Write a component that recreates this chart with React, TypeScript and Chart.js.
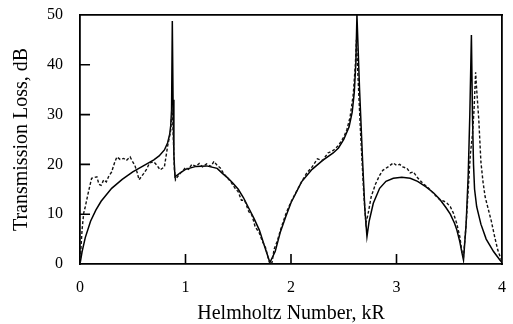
import React, { useEffect, useRef } from "react";
import { Chart, registerables } from "chart.js";

Chart.register(...registerables);

// Helmholtz number kR and transmission loss (dB) — theory (solid)
const theoryKR = [
  0, 0.02, 0.05, 0.1, 0.15, 0.2, 0.3, 0.4, 0.5, 0.6, 0.7, 0.75, 0.8, 0.83, 0.85,
  0.86, 0.868, 0.875, 0.882, 0.89, 0.9, 0.95, 1.0, 1.1, 1.2, 1.3, 1.35, 1.4, 1.45,
  1.5, 1.55, 1.6, 1.65, 1.7, 1.75, 1.8, 1.85, 1.9, 1.95, 2.0, 2.1, 2.2, 2.3,
  2.4, 2.45, 2.5, 2.55, 2.58, 2.6, 2.615, 2.625, 2.65, 2.68, 2.7, 2.72, 2.74, 2.78,
  2.84, 2.9, 2.97, 3.05, 3.13, 3.2, 3.28, 3.35, 3.41, 3.47, 3.51, 3.55, 3.57, 3.6,
  3.62, 3.635, 3.66, 3.68, 3.695, 3.71, 3.72, 3.73, 3.74, 3.76, 3.8, 3.85, 3.92,
  3.98, 4.0,
];
const theoryTL = [
  0, 2.5, 5.3, 8.6, 10.8, 12.6, 15.2, 17.0, 18.5, 19.7, 20.9, 21.7, 22.9, 24.3, 26,
  27.8, 31, 48.8, 33, 22, 17.5, 18.3, 19.0, 19.6, 19.7, 19.2, 18.2, 17.3, 16.2,
  15.0, 13.3, 11.2, 9.1, 6.8, 3.5, 0.3, 2.5, 6.5, 9.5, 12.3, 16.5, 19.0, 20.8,
  22.3, 23.3, 25.0, 27.5, 30.5, 34.5, 40.5, 50, 35, 20, 11, 5.5, 8.5, 12.2,
  15.2, 16.6, 17.2, 17.4, 17.2, 16.6, 15.5, 14.3, 13.0, 11.3, 10.0, 8.2, 7.0, 4.5,
  2.3, 0.8, 8, 18, 30, 46, 30, 20, 15, 11.5, 8, 5, 2.5,
  0.8, 0.3,
];

// Measured (dashed)
const measuredKR = [
  0, 0.01, 0.02, 0.035, 0.05, 0.08, 0.11, 0.14, 0.16, 0.18, 0.2, 0.225, 0.25, 0.27,
  0.3, 0.33, 0.35, 0.38, 0.415, 0.44, 0.475, 0.5, 0.52, 0.54, 0.56, 0.58, 0.605,
  0.63, 0.66, 0.7, 0.73, 0.76, 0.8, 0.83, 0.86, 0.873, 0.88, 0.895, 0.905, 0.92,
  0.95, 0.98, 1.0, 1.03, 1.06, 1.1, 1.13, 1.16, 1.2, 1.24, 1.27, 1.3, 1.33, 1.36,
  1.4, 1.43, 1.47, 1.5, 1.53, 1.56, 1.6, 1.63, 1.66, 1.7, 1.73, 1.76, 1.78, 1.8,
  1.82, 1.84, 1.87, 1.9, 1.95, 2.0, 2.05, 2.1, 2.15, 2.2, 2.25, 2.3, 2.35, 2.4,
  2.45, 2.5, 2.53, 2.56, 2.59, 2.61, 2.62, 2.63, 2.66, 2.69, 2.71, 2.73, 2.76,
  2.8, 2.84, 2.87, 2.92, 2.97, 3.0, 3.03, 3.06, 3.1, 3.13, 3.16, 3.2, 3.25, 3.3,
  3.35, 3.38, 3.41, 3.45, 3.48, 3.51, 3.54, 3.57, 3.6, 3.62, 3.635, 3.66, 3.68,
  3.7, 3.72, 3.735, 3.75, 3.76, 3.78, 3.8, 3.82, 3.84, 3.87, 3.9, 3.93, 3.96,
  3.99, 4.0,
];
const measuredTL = [
  0, 3.5, 7, 10.2, 11.5, 14.5, 17.2, 17.4, 17.5, 16.0, 15.8, 16.9, 16.5, 17.5,
  18.5, 20.5, 21.5, 21, 21.2, 20.8, 21.5, 20.5, 19.8, 18.5, 16.9, 17.5, 18.2,
  19, 20.3, 20.5, 19.8, 18.9, 19.5, 23.6, 26.9, 31, 28, 19, 16.9, 17.4,
  18.2, 18.8, 19.4, 19.0, 20.0, 19.6, 20.2, 19.5, 20.1, 19.6, 20.6, 19.8, 19.3, 18.2,
  17.2, 16.5, 15.2, 14.5, 12.8, 12.8, 10.5, 9.8, 7.5, 6.2, 4.5, 3.2, 1.5, 0,
  0.3, 3, 4.6, 6.8, 10, 12.5, 14.5, 16.5, 18.3, 19.5, 21.1, 20.8, 22.3, 22.8,
  23.8, 25.5, 27, 29.5, 34, 40, 45, 40, 26, 14, 8.2, 10, 13.5,
  16, 17.8, 18.8, 19.5, 20.3, 19.8, 20, 19.5, 19.2, 18.3, 18.5, 17.3, 16.2, 15.3,
  14.2, 13.5, 12.9, 12.6, 12.2, 11.5, 10.2, 8.2, 5.5, 2.5, 1.5, 8, 15,
  22, 26, 31, 38.5, 35, 29, 20.5, 16.5, 13.5, 11, 8.5, 5.5, 2.8,
  1, 0.5,
];

const xTickValues = [0, 1, 2, 3, 4];
const yTickValues = [0, 10, 20, 30, 40, 50];
const xInnerTicks = [1, 2, 3];
const yInnerTicks = [10, 20, 30, 40];
const xTitle = "Helmholtz Number, kR";
const yTitle = "Transmission Loss, dB";

const FONT = "'Liberation Serif', 'Times New Roman', serif";
const BORDER = { display: true, color: "#000", width: 1.8 };
// inward tick-mark lengths, expressed in axis units (about 10 px)
const TICK_LEN_DB = 2;
const TICK_LEN_KR = 0.095;

export default function App() {
  const canvasRef = useRef<HTMLCanvasElement | null>(null);

  useEffect(() => {
    if (!canvasRef.current) return;
    const theory = theoryKR.map((x, i) => ({ x, y: theoryTL[i] }));
    const measured = measuredKR.map((x, i) => ({ x, y: measuredTL[i] }));
    const xMarks: any[] = [];
    xInnerTicks.forEach((v) => {
      xMarks.push({ x: v, y: 0 }, { x: v, y: TICK_LEN_DB }, { x: v, y: null });
    });
    const yMarks: any[] = [];
    yInnerTicks.forEach((v) => {
      yMarks.push({ x: 0, y: v }, { x: TICK_LEN_KR, y: v }, { x: TICK_LEN_KR, y: null });
    });
    const tickStyle = {
      borderColor: "#000",
      borderWidth: 1.6,
      pointRadius: 0,
      tension: 0,
      fill: false,
      spanGaps: false,
      xAxisID: "x",
      yAxisID: "y",
    };
    const chart = new Chart(canvasRef.current, {
      type: "line",
      data: {
        datasets: [
          {
            label: "Measured",
            data: measured,
            borderColor: "#111",
            borderWidth: 1.4,
            borderDash: [3, 2],
            pointRadius: 0,
            tension: 0,
            fill: false,
            xAxisID: "x",
            yAxisID: "y",
          },
          {
            label: "Theory",
            data: theory,
            borderColor: "#000",
            borderWidth: 1.5,
            pointRadius: 0,
            tension: 0,
            fill: false,
            xAxisID: "x",
            yAxisID: "y",
          },
          { label: "x tick marks", data: xMarks, ...tickStyle },
          { label: "y tick marks", data: yMarks, ...tickStyle },
        ],
      },
      options: {
        animation: false,
        responsive: true,
        maintainAspectRatio: false,
        layout: { padding: { top: 15, right: 11, left: 0, bottom: 0 } },
        plugins: {
          legend: { display: false },
          tooltip: { enabled: false },
        },
        scales: {
          x: {
            type: "linear",
            position: "bottom",
            min: 0,
            max: 4,
            grid: { display: false, drawTicks: false },
            border: BORDER,
            afterBuildTicks: (scale: any) => {
              scale.ticks = xTickValues.map((v) => ({ value: v }));
            },
            afterFit: (scale: any) => {
              scale.height = 60;
              scale.paddingLeft = 0;
              scale.paddingRight = 0;
            },
            ticks: {
              padding: 14,
              color: "#000",
              font: { family: FONT, size: 16 },
              callback: (v: any) => String(v),
            },
            title: {
              display: true,
              text: xTitle,
              color: "#000",
              font: { family: FONT, size: 20, lineHeight: 1 },
              padding: { top: 0, bottom: 0 },
            },
          },
          y: {
            type: "linear",
            position: "left",
            min: 0,
            max: 50,
            grid: { display: false, drawTicks: false },
            border: BORDER,
            afterBuildTicks: (scale: any) => {
              scale.ticks = yTickValues.map((v) => ({ value: v }));
            },
            afterFit: (scale: any) => {
              scale.width = 80;
              scale.paddingTop = 0;
              scale.paddingBottom = 0;
            },
            ticks: {
              padding: 17,
              color: "#000",
              font: { family: FONT, size: 16 },
              callback: (v: any) => String(v),
            },
            title: {
              display: true,
              text: yTitle,
              color: "#000",
              font: { family: FONT, size: 20, lineHeight: 1 },
              padding: { top: 12, bottom: 0 },
            },
          },
          xTop: {
            type: "linear",
            position: "top",
            min: 0,
            max: 4,
            grid: { display: false, drawTicks: false },
            border: BORDER,
            ticks: { display: false },
            afterFit: (scale: any) => {
              scale.height = 0;
              scale.paddingLeft = 0;
              scale.paddingRight = 0;
            },
          },
          yRight: {
            type: "linear",
            position: "right",
            min: 0,
            max: 50,
            grid: { display: false, drawTicks: false },
            border: BORDER,
            ticks: { display: false },
            afterFit: (scale: any) => {
              scale.width = 0;
              scale.paddingTop = 0;
              scale.paddingBottom = 0;
            },
          },
        },
      },
    });
    return () => chart.destroy();
  }, []);

  return (
    <div
      style={{
        position: "fixed",
        left: 0,
        top: 0,
        width: 513,
        height: 324,
        background: "#fff",
      }}
    >
      <canvas ref={canvasRef} />
    </div>
  );
}
